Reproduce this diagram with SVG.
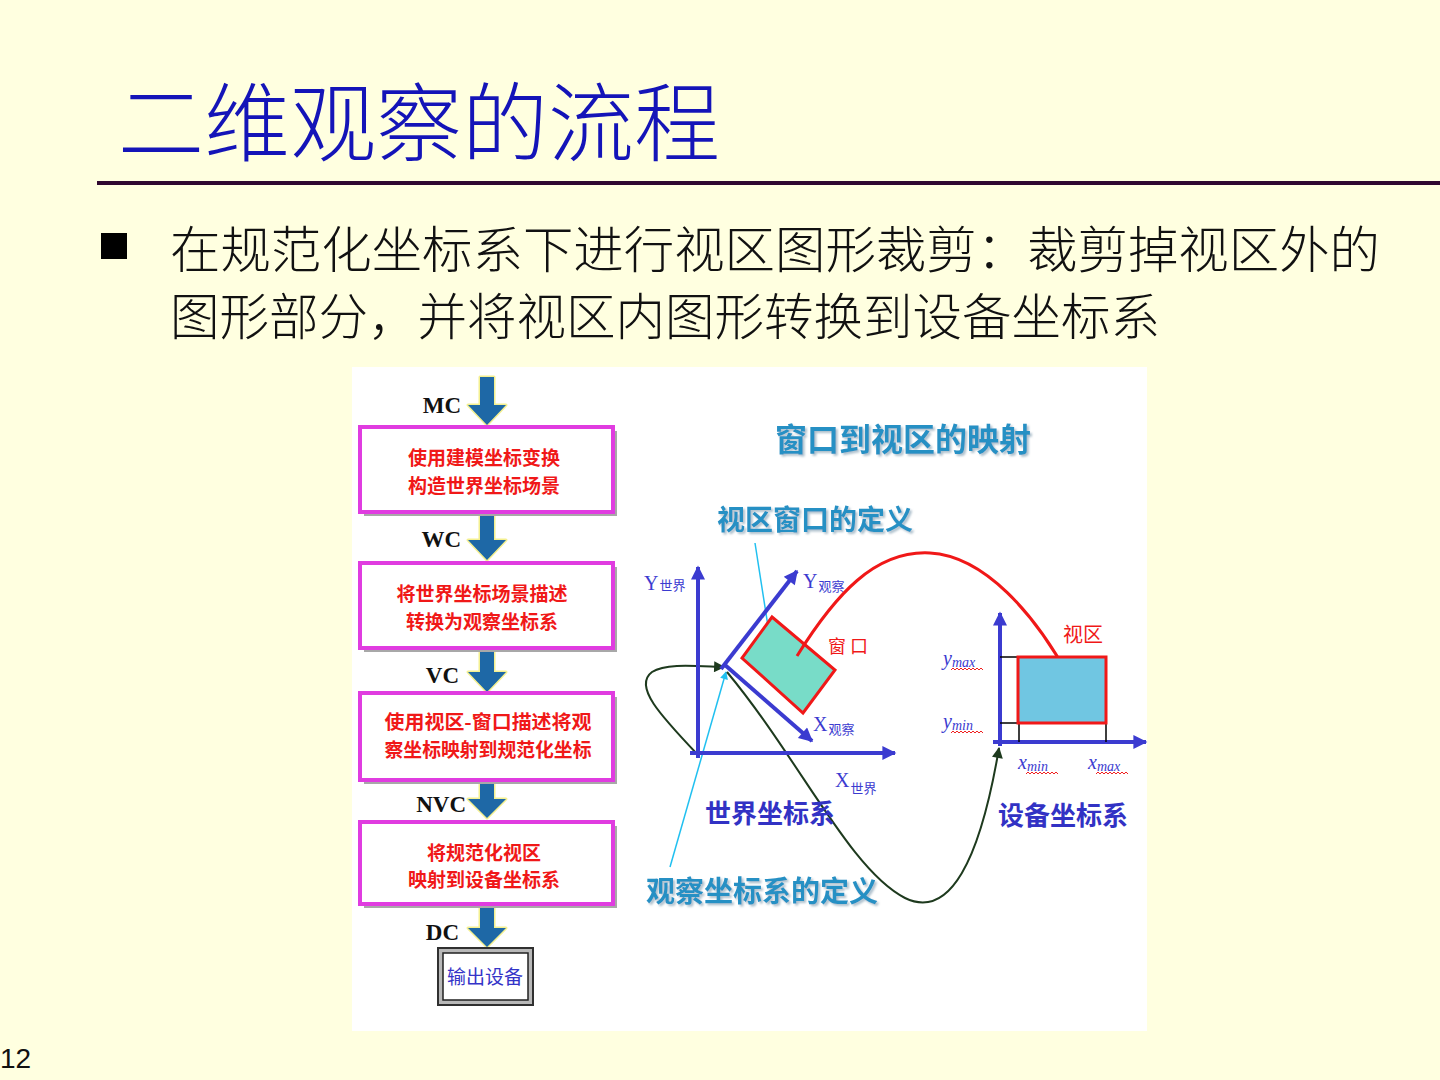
<svg xmlns="http://www.w3.org/2000/svg" width="1440" height="1080" viewBox="0 0 1440 1080">
<defs>
<style>
.cjk{font-family:"Noto Sans CJK SC","Noto Sans",sans-serif}
.title{font-size:86px;fill:#1414B8;font-weight:300}
.body{font-size:50px;fill:#111111;font-weight:300}
.lbl{font-family:"Liberation Serif","Noto Sans CJK SC",serif;font-weight:bold;font-size:23px;fill:#111111;text-anchor:end}
.box{fill:#FFFFFF;stroke:#E03CE0;stroke-width:4}
.shadow{fill:#A8A8A8}
.ftxt{font-family:"Noto Sans CJK SC",sans-serif;font-weight:bold;font-size:19px;fill:#F01818;text-anchor:middle}
.farrow{fill:#1E68A6;stroke:#F4F090;stroke-width:3;stroke-linejoin:round;paint-order:stroke}
.teal{font-family:"Noto Sans CJK SC",sans-serif;font-weight:bold;fill:#2690C4;text-anchor:middle}
.navy{font-family:"Noto Sans CJK SC",sans-serif;font-weight:bold;fill:#3232C4;text-anchor:middle}
.axis{stroke:#3B3BD0;stroke-width:4;fill:none}
.ax{font-family:"Liberation Serif",serif;fill:#3B3BD0}
.axs{font-family:"Noto Sans CJK SC",sans-serif;fill:#3B3BD0;font-size:13px}
.sub{font-family:"Liberation Serif",serif;font-style:italic;fill:#3B3BD0}
.wavy{fill:none;stroke:#F02020;stroke-width:1}
.red{font-family:"Noto Sans CJK SC",sans-serif;fill:#F01818}
</style>
<marker id="ahBlue" viewBox="0 0 10 10" refX="9" refY="5" markerWidth="16" markerHeight="14" markerUnits="userSpaceOnUse" orient="auto"><path d="M0,0 L10,5 L0,10 Z" fill="#3B3BD0"/></marker>
<marker id="ahRed" viewBox="0 0 10 10" refX="9" refY="5" markerWidth="16" markerHeight="13" markerUnits="userSpaceOnUse" orient="auto"><path d="M0,0 L10,5 L0,10 Z" fill="#F01818"/></marker>
<marker id="ahGreen" viewBox="0 0 10 10" refX="9" refY="5" markerWidth="14" markerHeight="11" markerUnits="userSpaceOnUse" orient="auto"><path d="M0,0 L10,5 L0,10 Z" fill="#1E3A1E"/></marker>
<marker id="ahCyan" viewBox="0 0 10 10" refX="9" refY="5" markerWidth="10" markerHeight="8" markerUnits="userSpaceOnUse" orient="auto"><path d="M0,0 L10,5 L0,10 Z" fill="#20C0F0"/></marker>
<filter id="ds" x="-10%" y="-30%" width="130%" height="170%"><feDropShadow dx="2" dy="2" stdDeviation="1" flood-color="#9AB0C0" flood-opacity="0.8"/></filter>
</defs>

<rect x="0" y="0" width="1440" height="1080" fill="#FFFFE0"/>

<g id="title">
<text class="cjk title" x="118" y="155" textLength="602" lengthAdjust="spacingAndGlyphs">二维观察的流程</text>
<rect x="97" y="181" width="1343" height="4" fill="#300830"/>
</g>

<g id="bullet">
<rect x="101" y="233" width="26" height="26" fill="#000000"/>
<text class="cjk body" x="170" y="268" textLength="1210" lengthAdjust="spacingAndGlyphs">在规范化坐标系下进行视区图形裁剪：裁剪掉视区外的</text>
<text class="cjk body" x="170" y="335" textLength="990" lengthAdjust="spacingAndGlyphs">图形部分，并将视区内图形转换到设备坐标系</text>
</g>

<text x="0" y="1068" font-family="Liberation Sans, sans-serif" font-size="28" fill="#111111">12</text>

<g id="figure">
<rect x="352" y="367" width="795" height="664" fill="#FFFFFF"/>
</g>

<g id="flow-arrows">
<polygon class="farrow" points="480,377 494,377 494,405 506,405 487,425 468,405 480,405"/>
<polygon class="farrow" points="480,512 494,512 494,540 506,540 487,560 468,540 480,540"/>
<polygon class="farrow" points="480,649 494,649 494,672 506,672 487,692 468,672 480,672"/>
<polygon class="farrow" points="480,781 494,781 494,799 506,799 487,818 468,799 480,799"/>
<polygon class="farrow" points="480,906 494,906 494,928 506,928 487,947 468,928 480,928"/>
</g>

<g id="flow-labels">
<text class="lbl" x="461" y="413">MC</text>
<text class="lbl" x="461" y="547">WC</text>
<text class="lbl" x="459" y="683">VC</text>
<text class="lbl" x="466" y="812">NVC</text>
<text class="lbl" x="459" y="940">DC</text>
</g>

<g id="box1">
<rect class="shadow" x="364" y="431" width="253" height="85"/>
<rect class="box" x="360" y="427" width="253" height="85"/>
<text class="ftxt" x="484" y="465">使用建模坐标变换</text>
<text class="ftxt" x="484" y="493">构造世界坐标场景</text>
</g>
<g id="box2">
<rect class="shadow" x="364" y="567" width="253" height="85"/>
<rect class="box" x="360" y="563" width="253" height="85"/>
<text class="ftxt" x="482" y="601">将世界坐标场景描述</text>
<text class="ftxt" x="482" y="629">转换为观察坐标系</text>
</g>
<g id="box3">
<rect class="shadow" x="364" y="697" width="253" height="87"/>
<rect class="box" x="360" y="693" width="253" height="87"/>
<text class="ftxt" x="488" y="729" textLength="207" lengthAdjust="spacingAndGlyphs">使用视区-窗口描述将观</text>
<text class="ftxt" x="488" y="757" textLength="207" lengthAdjust="spacingAndGlyphs">察坐标映射到规范化坐标</text>
</g>
<g id="box4">
<rect class="shadow" x="364" y="826" width="253" height="82"/>
<rect class="box" x="360" y="822" width="253" height="82"/>
<text class="ftxt" x="484" y="860">将规范化视区</text>
<text class="ftxt" x="484" y="887">映射到设备坐标系</text>
</g>
<g id="output">
<rect x="438" y="948" width="95" height="57" fill="#B8B8B8" stroke="#303030" stroke-width="2"/>
<rect x="443" y="953" width="85" height="47" fill="#FFFFFF" stroke="#202020" stroke-width="1.5"/>
<text x="485" y="984" font-family="Noto Sans CJK SC, sans-serif" font-size="19" fill="#3434C8" text-anchor="middle">输出设备</text>
</g>

<g id="connectors">
<path d="M755,543 L772,652" stroke="#20C0F0" stroke-width="1.5" fill="none" marker-end="url(#ahCyan)"/>
<path d="M670,867 L726,672" stroke="#20C0F0" stroke-width="1.5" fill="none" marker-end="url(#ahCyan)"/>
<path d="M698,755 C660,715 633,686 652,672 C666,663 695,666 724,667" stroke="#1E3A1E" stroke-width="2" fill="none" marker-end="url(#ahGreen)"/>
<path d="M727,672 C800,760 850,870 905,898 C950,920 980,860 999,748" stroke="#1E3A1E" stroke-width="2" fill="none" marker-end="url(#ahGreen)"/>
</g>

<g id="world-axes">
<path class="axis" d="M698,758 L698,567" marker-end="url(#ahBlue)"/>
<path class="axis" d="M690,753 L895,753" marker-end="url(#ahBlue)"/>
<text class="ax" x="644" y="590" font-size="20">Y<tspan class="axs" dx="1">世界</tspan></text>
<text class="ax" x="835" y="787" font-size="20">X<tspan class="axs" dx="1" dy="6">世界</tspan></text>
</g>

<g id="view-axes">
<path class="axis" d="M721,669 L797,571" marker-end="url(#ahBlue)"/>
<path class="axis" d="M725,665 L812,741" marker-end="url(#ahBlue)"/>
<text class="ax" x="803" y="588" font-size="20">Y<tspan class="axs" dx="1" dy="3">观察</tspan></text>
<text class="ax" x="813" y="731" font-size="20">X<tspan class="axs" dx="1" dy="3">观察</tspan></text>
</g>

<g id="window">
<polygon points="772,617 835,670 803,713 742,658" fill="#78DCC8" stroke="#F01818" stroke-width="3"/>
<text class="red" x="828" y="653" font-size="18">窗 口</text>
</g>

<g id="mapping">
<path d="M797,656 C835,595 875,550 930,553 C985,556 1035,615 1068,675" stroke="#F01818" stroke-width="3" fill="none" marker-end="url(#ahRed)"/>
</g>

<g id="device-axes">
<path class="axis" d="M1000,746 L1000,613" marker-end="url(#ahBlue)"/>
<path class="axis" d="M993,742 L1146,742" marker-end="url(#ahBlue)"/>
<path d="M1000,657 L1018,657 M1000,723 L1018,723 M1019,723 L1019,742 M1106,723 L1106,742" stroke="#000000" stroke-width="1.5" fill="none"/>
</g>

<g id="viewport">
<rect x="1018" y="657" width="88" height="66" fill="#70C6E2" stroke="#F01818" stroke-width="3"/>
<text class="red" x="1063" y="642" font-size="20">视区</text>
</g>

<g id="device-labels">
<text class="sub" x="943" y="665" font-size="20">y<tspan font-size="14" dy="2">max</tspan></text>
<path class="wavy" d="M951,670 l2,-2 l2,2 l2,-2 l2,2 l2,-2 l2,2 l2,-2 l2,2 l2,-2 l2,2 l2,-2 l2,2 l2,-2 l2,2 l2,-2 l2,2"/>
<text class="sub" x="943" y="728" font-size="20">y<tspan font-size="14" dy="2">min</tspan></text>
<path class="wavy" d="M951,733 l2,-2 l2,2 l2,-2 l2,2 l2,-2 l2,2 l2,-2 l2,2 l2,-2 l2,2 l2,-2 l2,2 l2,-2 l2,2 l2,-2 l2,2"/>
<text class="sub" x="1018" y="769" font-size="20">x<tspan font-size="14" dy="2">min</tspan></text>
<path class="wavy" d="M1026,774 l2,-2 l2,2 l2,-2 l2,2 l2,-2 l2,2 l2,-2 l2,2 l2,-2 l2,2 l2,-2 l2,2 l2,-2 l2,2 l2,-2 l2,2"/>
<text class="sub" x="1088" y="769" font-size="20">x<tspan font-size="14" dy="2">max</tspan></text>
<path class="wavy" d="M1096,774 l2,-2 l2,2 l2,-2 l2,2 l2,-2 l2,2 l2,-2 l2,2 l2,-2 l2,2 l2,-2 l2,2 l2,-2 l2,2 l2,-2 l2,2"/>
</g>

<g id="captions">
<text class="teal" x="903" y="451" font-size="32" filter="url(#ds)">窗口到视区的映射</text>
<text class="teal" x="815" y="530" font-size="28" filter="url(#ds)">视区窗口的定义</text>
<text class="teal" x="762" y="902" font-size="29" filter="url(#ds)">观察坐标系的定义</text>
<text class="navy" x="770" y="823" font-size="26">世界坐标系</text>
<text class="navy" x="1063" y="825" font-size="26">设备坐标系</text>
</g>
</svg>
